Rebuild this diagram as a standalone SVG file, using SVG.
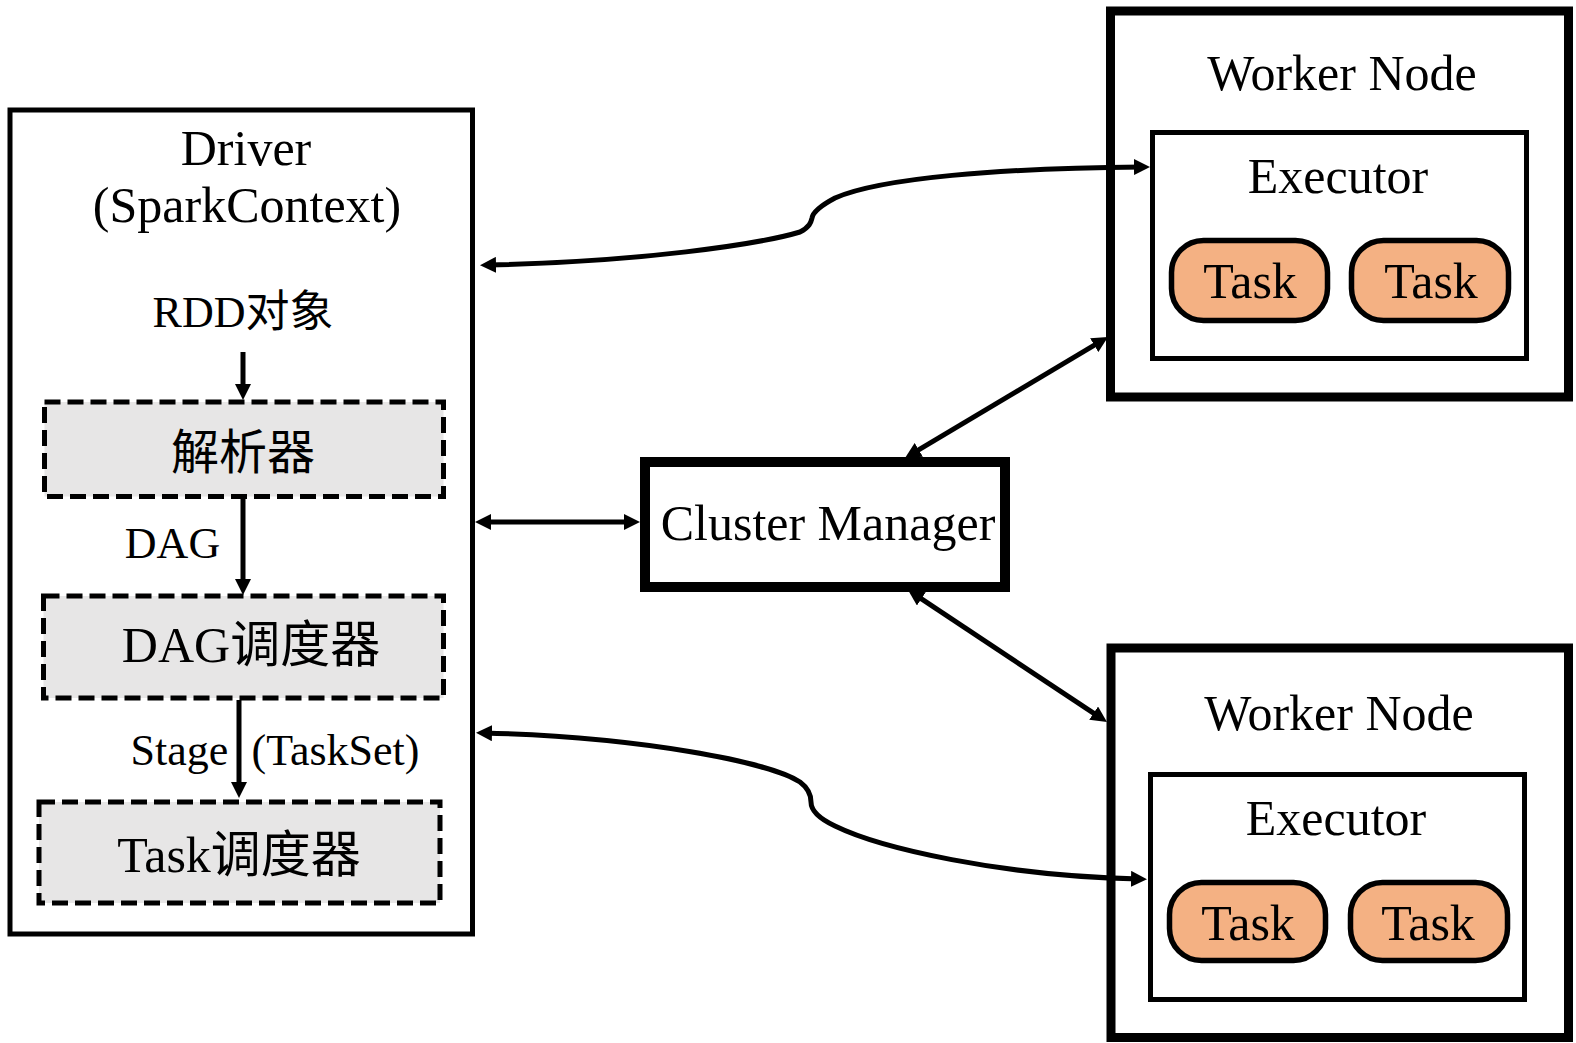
<svg xmlns="http://www.w3.org/2000/svg" width="1576" height="1043" viewBox="0 0 1576 1043">
<defs>
<style>
text{font-family:"Liberation Serif","Noto Sans CJK SC",serif;fill:#000;text-anchor:middle}
.t48{font-size:50px}
.cjk{font-size:48px}
.t43{font-size:44px}
.box{fill:#fff;stroke:#000}
.dash{fill:#e7e6e6;stroke:#000;stroke-width:5;stroke-dasharray:16 7}
.task{fill:#f4b183;stroke:#000;stroke-width:5.5}
.conn{fill:none;stroke:#000;stroke-width:5}
</style>
<marker id="ah" markerUnits="userSpaceOnUse" viewBox="0 0 16 16" markerWidth="16" markerHeight="16" refX="8" refY="8" orient="auto-start-reverse">
<path d="M0,0 L16,8 L0,16 Z" fill="#000"/>
</marker>
</defs>
<rect width="1576" height="1043" fill="#fff"/>

<g id="driver">
<rect class="box" x="10" y="110" width="462.5" height="824" stroke-width="5"/>
<text class="t48" x="246" y="165">Driver</text>
<text class="t48" x="247" y="222">(SparkContext)</text>
<text x="243" y="327" style="font-size:44px">RDD对象</text>
</g>

<g id="parser">
<rect class="dash" x="44.5" y="402" width="399" height="94.5"/>
<text class="cjk" x="243" y="469">解析器</text>
</g>

<g id="dag-scheduler">
<rect class="dash" x="43.5" y="596" width="400" height="102"/>
<text class="t48" x="251" y="662">DAG调度器</text>
</g>

<g id="task-scheduler">
<rect class="dash" x="39" y="802" width="401" height="101"/>
<text class="t48" x="239" y="872">Task调度器</text>
</g>

<g id="cluster-manager">
<rect class="box" x="645" y="462" width="360" height="125" stroke-width="10"/>
<text class="t48" x="828" y="540">Cluster Manager</text>
</g>

<g id="worker-1">
<rect class="box" x="1110.5" y="11" width="458" height="386" stroke-width="9"/>
<text class="t48" x="1342" y="90">Worker Node</text>
<rect class="box" x="1152.5" y="132.5" width="374" height="226" stroke-width="5"/>
<text class="t48" x="1338" y="193">Executor</text>
<rect class="task" x="1171.5" y="240.5" width="156" height="80" rx="32"/>
<text class="t48" x="1250" y="298">Task</text>
<rect class="task" x="1351.5" y="240.5" width="157" height="80" rx="32"/>
<text class="t48" x="1431" y="298">Task</text>
</g>

<g id="worker-2">
<rect class="box" x="1111" y="648" width="457.5" height="389.5" stroke-width="9"/>
<text class="t48" x="1339" y="730">Worker Node</text>
<rect class="box" x="1150.5" y="774.5" width="374" height="225" stroke-width="5"/>
<text class="t48" x="1336" y="835">Executor</text>
<rect class="task" x="1169.5" y="882.5" width="156" height="78" rx="32"/>
<text class="t48" x="1248" y="940">Task</text>
<rect class="task" x="1350.5" y="882.5" width="157" height="78" rx="32"/>
<text class="t48" x="1428" y="940">Task</text>
</g>

<g id="labels">
<text class="t43" x="172.5" y="558">DAG</text>
<text class="t43" x="179.5" y="765">Stage</text>
<text class="t43" x="335.5" y="765">(TaskSet)</text>
</g>

<g id="connectors">
<line class="conn" x1="243" y1="352" x2="243" y2="392" marker-end="url(#ah)"/>
<line class="conn" x1="243" y1="499" x2="243" y2="587" marker-end="url(#ah)"/>
<line class="conn" x1="239" y1="700" x2="239" y2="790" marker-end="url(#ah)"/>
<line class="conn" x1="483" y1="522" x2="632" y2="522" marker-start="url(#ah)" marker-end="url(#ah)"/>
<line class="conn" x1="911.9" y1="453.9" x2="1101.1" y2="341.1" marker-start="url(#ah)" marker-end="url(#ah)"/>
<line class="conn" x1="914.7" y1="594.4" x2="1100.3" y2="717.6" marker-start="url(#ah)" marker-end="url(#ah)"/>
<path class="conn" d="M488,265 C640,262 760,244 800,232 C810,227 811,222 812,218 C813,212 820,206 835,198 C880,178 1000,168 1142,167" marker-start="url(#ah)" marker-end="url(#ah)"/>
<path class="conn" d="M484,733 C640,737 770,762 800,782 C808,788 811,794 811,802 C811,810 818,818 835,826 C880,848 1000,876 1139,879" marker-start="url(#ah)" marker-end="url(#ah)"/>
</g>
</svg>
